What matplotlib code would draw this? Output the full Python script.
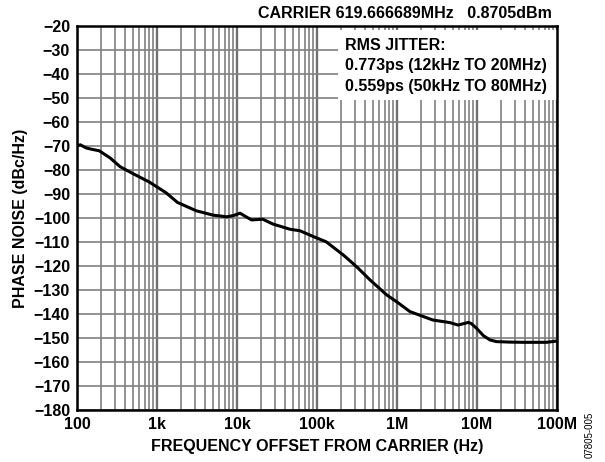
import matplotlib
matplotlib.use("Agg")
import matplotlib.pyplot as plt
from matplotlib.patches import Rectangle
from matplotlib.ticker import FixedLocator, LogLocator, NullFormatter

plt.rcParams["font.family"] = ["Liberation Sans", "DejaVu Sans"]
plt.rcParams["font.weight"] = "bold"

# phase noise curve
freq_hz = [100, 110, 130, 150, 190, 260, 345, 500, 800, 1.3e3, 1.8e3, 3.1e3,
           5e3, 7.4e3, 9e3, 10.9e3, 13e3, 15.2e3, 21e3, 28e3, 46e3, 61e3, 94e3,
           130e3, 213e3, 313e3, 460e3, 740e3, 1e6, 1.45e6, 2.8e6, 4.6e6, 5.8e6,
           7.2e6, 7.8e6, 8.5e6, 9.9e6, 12e6, 14.5e6, 17.5e6, 25e6, 38e6, 74e6,
           100e6]
noise_dbc = [-70, -69.5, -70.8, -71.3, -72, -75, -78.6, -81.5, -85, -89.5,
             -93.5, -97, -98.8, -99.5, -99, -98, -99.5, -100.8, -100.5, -102.5,
             -104.7, -105.3, -108, -109.9, -115.4, -120.3, -125.8, -132, -135,
             -139, -142.5, -143.6, -144.6, -143.8, -143.5, -144, -146, -149,
             -150.8, -151.5, -151.7, -151.8, -151.8, -151.25]

x_ticks = [1e2, 1e3, 1e4, 1e5, 1e6, 1e7, 1e8]
x_labels = ["100", "1k", "10k", "100k", "1M", "10M", "100M"]
y_ticks = list(range(-180, -19, 10))
y_labels = ["\u2212" + str(-v) for v in y_ticks]

jitter_lines = ["RMS JITTER:", "0.773ps (12kHz TO 20MHz)", "0.559ps (50kHz TO 80MHz)"]

FS = 11.5

fig = plt.figure(figsize=(6.05, 4.62), dpi=100)
ax = fig.add_axes([77 / 605, 1 - 410 / 462, 480 / 605, 384 / 462])

ax.semilogx(freq_hz, noise_dbc, color="black", lw=2.2, zorder=3)
ax.set_xlim(1e2, 1e8)
ax.set_ylim(-180, -20)

ax.xaxis.set_major_locator(FixedLocator(x_ticks))
ax.set_xticklabels(x_labels)
ax.xaxis.set_minor_locator(LogLocator(base=10, subs=range(2, 10), numticks=20))
ax.xaxis.set_minor_formatter(NullFormatter())
ax.set_yticks(y_ticks)
ax.set_yticklabels(y_labels)

ax.grid(which="major", axis="x", color="#707070", lw=1.7)
ax.grid(which="minor", axis="x", color="#808080", lw=1.2)
ax.grid(which="major", axis="y", color="#808080", lw=1.2)
ax.tick_params(which="both", length=0, labelsize=FS, pad=5)
for lab in ax.get_xticklabels() + ax.get_yticklabels():
    lab.set_fontweight("bold")
for sp in ax.spines.values():
    sp.set_linewidth(1.8)
    sp.set_zorder(4)

# white box behind the jitter text
ax.add_patch(Rectangle((0.544, 0.807), 0.456, 0.183, transform=ax.transAxes,
                       facecolor="white", edgecolor="none", zorder=2.5))
for i, line in enumerate(jitter_lines):
    ax.text(0.558, 0.95 - i * 0.054, line, transform=ax.transAxes, fontsize=FS,
            fontweight="bold", va="center", ha="left", zorder=3)

ax.set_xlabel("FREQUENCY OFFSET FROM CARRIER (Hz)", fontsize=FS,
              fontweight="bold", labelpad=5)
ax.set_ylabel("PHASE NOISE (dBc/Hz)", fontsize=FS, fontweight="bold", labelpad=4)

fig.text(552 / 605, 1 - 14 / 462, "CARRIER 619.666689MHz   0.8705dBm",
         fontsize=FS, fontweight="bold", ha="right", va="center")
fig.text(590 / 605, 1 - 435 / 462, "07805-005", fontsize=7, rotation=90,
         ha="center", va="center", fontweight="normal")

fig.savefig("out.png", dpi=100)
